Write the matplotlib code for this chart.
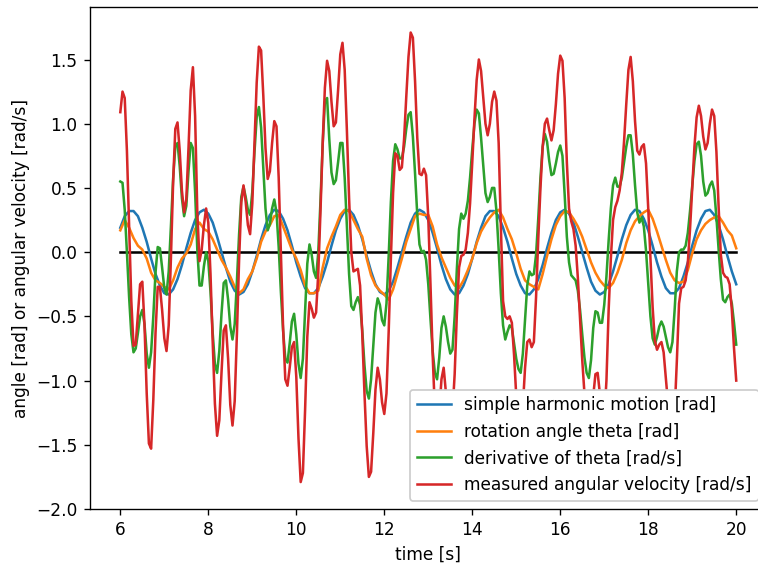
import matplotlib
matplotlib.use("Agg")
import matplotlib.pyplot as plt
import numpy as np

DPI = 122

# sampling grids (s): angles every 0.1 s, velocities every 0.05 s
t_angle = np.linspace(6.0, 20.0, 141)
t_rate = np.linspace(6.0, 20.0, 281)

shm_rad = [
    0.19, 0.28, 0.32, 0.32, 0.28, 0.19, 0.08, -0.05, -0.17, -0.26,
    -0.32, -0.33, -0.29, -0.21, -0.10, 0.03, 0.15, 0.25, 0.31, 0.33,
    0.30, 0.23, 0.12, 0.00, -0.12, -0.23, -0.30, -0.33, -0.31, -0.25,
    -0.15, -0.03, 0.10, 0.21, 0.29, 0.33, 0.32, 0.26, 0.17, 0.05,
    -0.08, -0.19, -0.28, -0.32, -0.32, -0.28, -0.19, -0.08, 0.05, 0.17,
    0.26, 0.32, 0.33, 0.29, 0.21, 0.10, -0.03, -0.15, -0.25, -0.31,
    -0.33, -0.30, -0.23, -0.12, 0.00, 0.12, 0.23, 0.30, 0.33, 0.31,
    0.25, 0.15, 0.03, -0.10, -0.21, -0.29, -0.33, -0.32, -0.26, -0.17,
    -0.05, 0.08, 0.19, 0.28, 0.32, 0.32, 0.28, 0.19, 0.08, -0.05,
    -0.17, -0.26, -0.32, -0.33, -0.29, -0.21, -0.10, 0.03, 0.15, 0.25,
    0.31, 0.33, 0.30, 0.23, 0.12, 0.00, -0.12, -0.23, -0.30, -0.33,
    -0.31, -0.25, -0.15, -0.03, 0.10, 0.21, 0.29, 0.33, 0.32, 0.26,
    0.17, 0.05, -0.08, -0.19, -0.28, -0.32, -0.32, -0.28, -0.19, -0.08,
    0.05, 0.17, 0.26, 0.32, 0.33, 0.29, 0.21, 0.10, -0.03, -0.15,
    -0.25,
]

theta_rad = [
    0.17, 0.25, 0.19, 0.11, 0.05, 0.02, -0.05, -0.16, -0.22, -0.24,
    -0.27, -0.29, -0.22, -0.12, -0.05, -0.01, 0.06, 0.18, 0.23, 0.18,
    0.16, 0.10, 0.02, -0.06, -0.12, -0.19, -0.27, -0.32, -0.29, -0.21,
    -0.15, -0.05, 0.08, 0.16, 0.21, 0.28, 0.29, 0.20, 0.11, 0.02,
    -0.05, -0.14, -0.26, -0.32, -0.32, -0.30, -0.12, 0.03, 0.12, 0.20,
    0.29, 0.33, 0.32, 0.25, 0.18, 0.12, -0.05, -0.18, -0.26, -0.30,
    -0.33, -0.37, -0.29, -0.17, -0.05, 0.08, 0.18, 0.28, 0.30, 0.29,
    0.29, 0.20, 0.06, -0.04, -0.12, -0.20, -0.26, -0.28, -0.22, -0.14,
    -0.05, 0.07, 0.16, 0.22, 0.27, 0.31, 0.33, 0.27, 0.18, 0.10,
    -0.01, -0.13, -0.22, -0.25, -0.27, -0.29, -0.17, -0.03, 0.10, 0.21,
    0.28, 0.32, 0.31, 0.26, 0.20, 0.12, 0.02, -0.08, -0.16, -0.22,
    -0.26, -0.28, -0.24, -0.16, -0.06, 0.07, 0.17, 0.24, 0.28, 0.31,
    0.33, 0.26, 0.16, 0.05, -0.06, -0.16, -0.22, -0.24, -0.23, -0.14,
    -0.01, 0.10, 0.17, 0.22, 0.25, 0.27, 0.28, 0.23, 0.17, 0.13,
    0.03,
]

dtheta_rad_s = [
    0.55, 0.54, 0.33, 0.00, -0.35, -0.64, -0.78, -0.75, -0.63, -0.50,
    -0.45, -0.56, -0.79, -0.90, -0.78, -0.50, -0.16, 0.04, 0.03, -0.12,
    -0.28, -0.33, -0.15, 0.20, 0.57, 0.82, 0.85, 0.67, 0.42, 0.28,
    0.36, 0.63, 0.85, 0.81, 0.47, 0.02, -0.26, -0.26, -0.11, 0.00,
    -0.07, -0.31, -0.63, -0.87, -0.94, -0.77, -0.48, -0.24, -0.22, -0.37,
    -0.58, -0.68, -0.56, -0.23, 0.14, 0.43, 0.51, 0.43, 0.33, 0.29,
    0.47, 0.78, 1.05, 1.13, 0.97, 0.65, 0.34, 0.17, 0.22, 0.34,
    0.41, 0.31, 0.04, -0.31, -0.61, -0.83, -0.86, -0.71, -0.54, -0.48,
    -0.64, -0.87, -0.98, -0.83, -0.46, -0.09, 0.06, -0.02, -0.15, -0.20,
    0.00, 0.40, 0.84, 1.17, 1.20, 0.88, 0.62, 0.53, 0.56, 0.70,
    0.85, 0.85, 0.58, 0.21, -0.17, -0.42, -0.45, -0.39, -0.35, -0.41,
    -0.61, -0.88, -1.08, -1.14, -0.99, -0.73, -0.47, -0.36, -0.41, -0.53,
    -0.57, -0.40, -0.03, 0.39, 0.71, 0.84, 0.80, 0.73, 0.73, 0.82,
    0.96, 1.07, 1.09, 0.90, 0.61, 0.29, 0.06, 0.00, 0.01, -0.06,
    -0.25, -0.52, -0.77, -0.94, -0.99, -0.82, -0.59, -0.50, -0.58, -0.70,
    -0.79, -0.76, -0.50, -0.13, 0.18, 0.30, 0.26, 0.30, 0.40, 0.58,
    0.80, 1.00, 1.11, 1.08, 0.89, 0.67, 0.46, 0.39, 0.43, 0.50,
    0.50, 0.32, 0.02, -0.32, -0.57, -0.68, -0.62, -0.57, -0.59, -0.71,
    -0.83, -0.91, -0.94, -0.79, -0.52, -0.26, -0.15, -0.18, -0.17, -0.02,
    0.26, 0.58, 0.82, 0.92, 0.86, 0.71, 0.60, 0.61, 0.69, 0.78,
    0.83, 0.75, 0.45, 0.12, -0.08, -0.18, -0.20, -0.22, -0.30, -0.45,
    -0.64, -0.82, -0.94, -0.98, -0.84, -0.59, -0.46, -0.47, -0.55, -0.55,
    -0.41, -0.19, 0.09, 0.34, 0.52, 0.58, 0.51, 0.51, 0.58, 0.70,
    0.82, 0.91, 0.91, 0.76, 0.52, 0.31, 0.23, 0.27, 0.20, 0.01,
    -0.25, -0.50, -0.67, -0.72, -0.66, -0.58, -0.54, -0.58, -0.66, -0.74,
    -0.78, -0.70, -0.45, -0.15, 0.00, 0.02, 0.02, 0.05, 0.15, 0.32,
    0.52, 0.71, 0.84, 0.86, 0.75, 0.55, 0.44, 0.46, 0.52, 0.55,
    0.48, 0.27, 0.02, -0.21, -0.37, -0.39, -0.35, -0.33, -0.40, -0.55,
    -0.72,
]

omega_meas_rad_s = [
    1.09, 1.25, 1.20, 0.79, 0.19, -0.38, -0.73, -0.72, -0.49, -0.25,
    -0.23, -0.57, -1.10, -1.49, -1.53, -1.15, -0.63, -0.27, -0.27, -0.45,
    -0.67, -0.77, -0.57, -0.05, 0.54, 0.96, 1.01, 0.79, 0.48, 0.31,
    0.41, 0.81, 1.26, 1.44, 1.06, 0.31, -0.07, 0.02, 0.21, 0.34,
    0.23, -0.17, -0.70, -1.18, -1.43, -1.31, -0.94, -0.61, -0.57, -0.83,
    -1.19, -1.35, -1.16, -0.64, -0.06, 0.39, 0.52, 0.39, 0.21, 0.14,
    0.38, 0.84, 1.32, 1.60, 1.57, 1.22, 0.81, 0.57, 0.63, 0.85,
    1.02, 0.98, 0.58, 0.00, -0.59, -0.99, -1.04, -0.90, -0.74, -0.70,
    -0.97, -1.45, -1.79, -1.72, -1.23, -0.66, -0.39, -0.44, -0.51, -0.47,
    -0.16, 0.32, 0.85, 1.28, 1.49, 1.41, 1.17, 0.98, 1.01, 1.26,
    1.54, 1.63, 1.42, 0.95, 0.42, 0.00, -0.15, -0.14, -0.13, -0.26,
    -0.64, -1.10, -1.51, -1.75, -1.71, -1.41, -1.07, -0.90, -0.99, -1.17,
    -1.26, -1.10, -0.62, -0.05, 0.46, 0.77, 0.75, 0.64, 0.66, 0.88,
    1.21, 1.52, 1.71, 1.67, 1.33, 0.89, 0.61, 0.60, 0.65, 0.60,
    0.27, -0.25, -0.80, -1.23, -1.40, -1.25, -0.99, -0.90, -1.09, -1.35,
    -1.38, -1.25, -0.95, -0.48, -0.12, -0.03, -0.02, 0.02, 0.15, 0.38,
    0.70, 1.04, 1.34, 1.50, 1.41, 1.20, 1.00, 0.91, 1.00, 1.17,
    1.25, 1.18, 0.85, 0.20, -0.38, -0.50, -0.52, -0.50, -0.55, -0.80,
    -1.12, -1.30, -1.32, -1.20, -0.90, -0.70, -0.68, -0.74, -0.70, -0.35,
    0.10, 0.50, 0.82, 1.00, 1.04, 0.95, 0.87, 0.95, 1.15, 1.39,
    1.53, 1.49, 1.20, 0.70, 0.34, 0.24, 0.18, 0.05, -0.20, -0.52,
    -0.84, -1.10, -1.32, -1.42, -1.35, -1.12, -0.95, -0.94, -1.10, -1.28,
    -1.30, -1.00, -0.45, -0.05, 0.25, 0.35, 0.40, 0.48, 0.62, 0.86,
    1.15, 1.42, 1.52, 1.33, 1.02, 0.79, 0.76, 0.82, 0.84, 0.69,
    0.34, -0.04, -0.43, -0.69, -0.76, -0.72, -0.70, -0.78, -0.98, -1.18,
    -1.32, -1.36, -1.25, -0.85, -0.40, -0.28, -0.27, -0.22, -0.08, 0.18,
    0.50, 0.82, 1.05, 1.14, 1.06, 0.90, 0.80, 0.85, 1.00, 1.11,
    1.06, 0.78, 0.35, -0.02, -0.16, -0.19, -0.20, -0.25, -0.45, -0.75,
    -1.00,
]

series_labels = [
    "simple harmonic motion [rad]",
    "rotation angle theta [rad]",
    "derivative of theta [rad/s]",
    "measured angular velocity [rad/s]",
]

fig = plt.figure(figsize=(758 / DPI, 563 / DPI), dpi=DPI)
# axes run past the right edge of the canvas, as in the reference crop
ax = fig.add_axes([0.1181, 0.0959, 0.8938, 0.8908])

ax.plot(t_angle, np.zeros_like(t_angle), color="black")
ax.plot(t_angle, shm_rad, color="C0", label=series_labels[0])
ax.plot(t_angle, theta_rad, color="C1", label=series_labels[1])
ax.plot(t_rate, dtheta_rad_s, color="C2", label=series_labels[2])
ax.plot(t_rate, omega_meas_rad_s, color="C3", label=series_labels[3])

ax.set_ylim(-2.0, 1.905)
ax.set_xlabel("time [s]")
ax.set_ylabel("angle [rad] or angular velocity [rad/s]")
ax.legend(loc="lower right", framealpha=1.0)

fig.savefig("out.png", dpi=DPI)
plt.close(fig)
